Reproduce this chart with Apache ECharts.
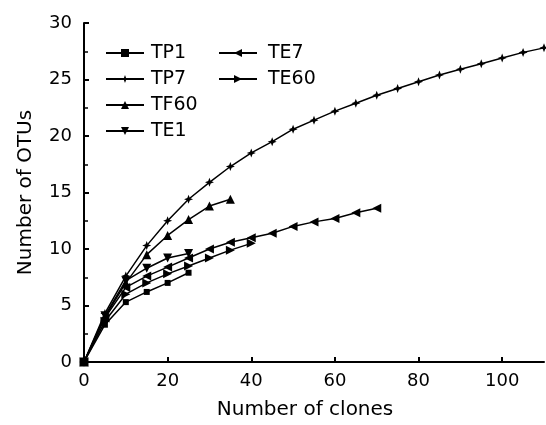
<!DOCTYPE html>
<html>
<head>
<meta charset="utf-8">
<script src="https://cdn.jsdelivr.net/npm/echarts@6/dist/echarts.min.js"></script>
<style>
html,body{margin:0;padding:0;background:#fff;}
#chart{width:546px;height:425px;}
</style>
</head>
<body>
<div id="chart"></div>
<script>
// Number of clones sampled (shared x positions, step 5)
var clones = [0,5,10,15,20,25,30,35,40,45,50,55,60,65,70,75,80,85,90,95,100,105,110];
// Number of OTUs for each library
var TP1  = [0,3.3,5.3,6.2,7.0,7.9];
var TP7  = [0,4.3,7.6,10.3,12.5,14.4,15.9,17.3,18.5,19.5,20.6,21.4,22.2,22.9,23.6,24.2,24.8,25.4,25.9,26.4,26.9,27.4,27.8];
var TF60 = [0,4.0,7.0,9.5,11.2,12.6,13.8,14.4];
var TE1  = [0,4.1,7.2,8.3,9.2,9.6];
var TE7  = [0,3.9,6.6,7.6,8.4,9.2,10.0,10.6,11.0,11.4,12.0,12.4,12.7,13.2,13.6];
var TE60 = [0,3.6,6.0,7.0,7.8,8.5,9.2,9.9,10.5];
var xTicks = [0,20,40,60,80,100];
var yTicks = [0,5,10,15,20,25,30];

function pts(vals){ return vals.map(function(v,i){ return [clones[i], v]; }); }

var FONT = 'DejaVu Sans';
var star = 'path://M0,-1L0.28,-0.28L1,0L0.28,0.28L0,1L-0.28,0.28L-1,0L-0.28,-0.28Z';

function mk(name, vals, symbol, size, rot){
  return {
    name: name, type: 'line', data: pts(vals),
    symbol: symbol, symbolSize: size, symbolRotate: rot || 0,
    showSymbol: true,
    lineStyle: {color:'#000', width:1.5},
    itemStyle: {color:'#000', borderColor:'#000', borderWidth:0},
    animation: false, z: 3
  };
}

var chart = echarts.init(document.getElementById('chart'), null, {renderer:'canvas'});
chart.setOption({
  backgroundColor: '#fff',
  animation: false,
  grid: {left: 84, right: 2, top: 23, bottom: 62},
  legend: [{
    data: ['TP1','TP7','TF60','TE1'],
    orient: 'vertical', left: 100, top: 37,
    itemWidth: 38, itemHeight: 10, itemGap: 4,
    textStyle: {fontFamily: FONT, fontSize: 19, color:'#000', lineHeight: 22, padding:[0,0,0,2]},
    inactiveColor: '#000'
  },{
    data: ['TE7','TE60'],
    orient: 'vertical', left: 213, top: 37,
    itemWidth: 38, itemHeight: 10, itemGap: 4,
    textStyle: {fontFamily: FONT, fontSize: 19, color:'#000', lineHeight: 22, padding:[0,0,0,6]},
    inactiveColor: '#000'
  }],
  xAxis: {
    type: 'value', min: 0, max: 110, interval: 20,
    name: 'Number of clones', nameLocation: 'middle', nameGap: 38,
    nameTextStyle: {fontFamily: FONT, fontSize: 20, color:'#000', padding:[0,18,0,0]},
    axisLine: {show: true, lineStyle: {color:'#000', width: 2}},
    axisTick: {show: true, inside: true, length: 5, lineStyle: {color:'#000', width: 2}, customValues: xTicks},
    axisLabel: {fontFamily: FONT, fontSize: 18, color:'#000', margin: 10, customValues: xTicks},
    splitLine: {show: false}
  },
  yAxis: {
    type: 'value', min: 0, max: 30, interval: 5,
    name: 'Number of OTUs', nameLocation: 'middle', nameGap: 48,
    nameTextStyle: {fontFamily: FONT, fontSize: 20, color:'#000'},
    axisLine: {show: true, lineStyle: {color:'#000', width: 2}},
    axisTick: {show: true, inside: true, length: 5, lineStyle: {color:'#000', width: 2}, customValues: yTicks},
    minorTick: {show: true, splitNumber: 2, length: 4, lineStyle: {color:'#000', width: 1.5}},
    axisLabel: {fontFamily: FONT, fontSize: 18, color:'#000', margin: 12, customValues: yTicks},
    splitLine: {show: false},
    minorSplitLine: {show: false}
  },
  series: [
    mk('TP1', TP1, 'rect', 6, 0),
    mk('TP7', TP7, star, 9, 0),
    mk('TF60', TF60, 'triangle', 9, 0),
    mk('TE1', TE1, 'triangle', 9, 180),
    mk('TE7', TE7, 'triangle', 9, 90),
    mk('TE60', TE60, 'triangle', 9, -90)
  ]
});
</script>
</body>
</html>
